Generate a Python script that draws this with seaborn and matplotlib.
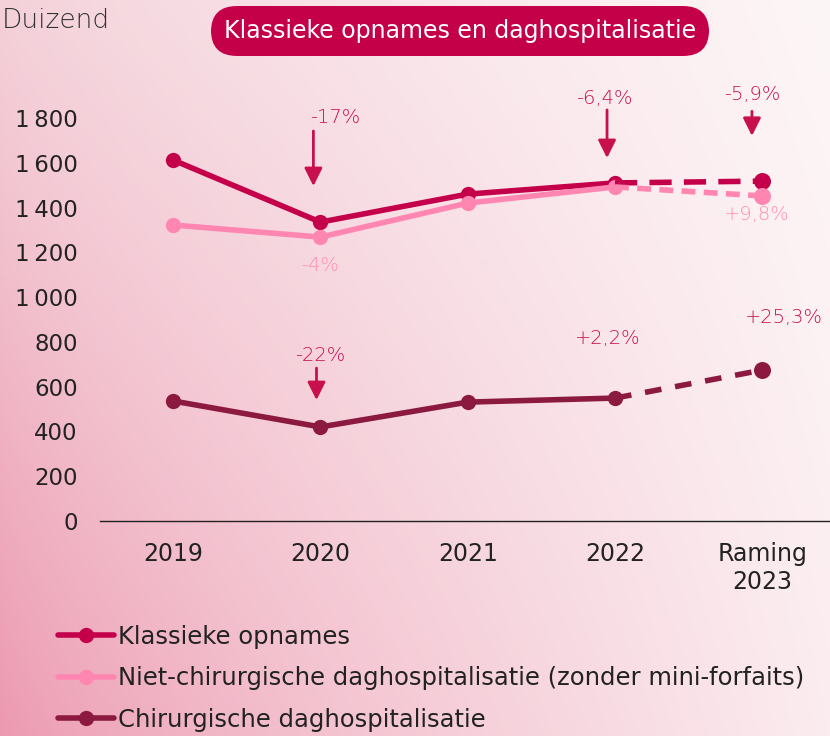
import numpy as np
import pandas as pd
import matplotlib
matplotlib.use("Agg")
import matplotlib.pyplot as plt
from matplotlib.lines import Line2D
import seaborn as sns

# ---- data ----
categories = ["2019", "2020", "2021", "2022", "Raming\n2023"]
klassieke = [1612, 1335, 1460, 1510, 1518]
niet_chir = [1322, 1268, 1420, 1492, 1452]
chir = [536, 420, 531, 549, 674]
ytick_vals = [0, 200, 400, 600, 800, 1000, 1200, 1400, 1600, 1800]
ytick_labels = ["0", "200", "400", "600", "800", "1\u2009000", "1\u2009200", "1\u2009400", "1\u2009600", "1\u2009800"]
series_names = ["Klassieke opnames",
                "Niet-chirurgische daghospitalisatie (zonder mini-forfaits)",
                "Chirurgische daghospitalisatie"]

C_KL = "#c4004a"
C_NC = "#ff86b1"
C_CH = "#8c1a40"
C_ANN = "#c8104f"
C_ANN_PINK = "#ff8fb5"

sns.set_theme(style="white")
plt.rcParams["font.family"] = ["DejaVu Sans"]

fig = plt.figure(figsize=(8.3, 7.36), dpi=100)

# background gradient
bg = fig.add_axes([0, 0, 1, 1], zorder=-10)
H, W = 200, 225
yy, xx = np.mgrid[0:1:H * 1j, 0:1:W * 1j]  # yy=0 top
tl = np.array([244, 208, 217]) / 255
tr = np.array([253, 246, 247]) / 255
bl = np.array([236, 152, 176]) / 255
br = np.array([251, 236, 239]) / 255
xs = xx[..., None] ** 0.75
ys = yy[..., None] ** 1.1
img = (tl * (1 - xs) * (1 - ys) + tr * xs * (1 - ys) + bl * (1 - xs) * ys + br * xs * ys)
bg.imshow(img, aspect="auto", extent=[0, 1, 0, 1], origin="upper")
bg.axis("off")

ax = fig.add_axes([100 / 830, (736 - 521) / 736, 730 / 830, (521 - 95.6) / 736])
ax.set_facecolor("none")

x = np.arange(len(categories))
rows = []
for name, vals in zip(series_names, [klassieke, niet_chir, chir]):
    for i, v in enumerate(vals):
        rows.append({"serie": name, "x": i, "v": v})
df = pd.DataFrame(rows)
solid = df[df["x"] <= 3]
dashed = df[df["x"] >= 3]
palette = {series_names[0]: C_KL, series_names[1]: C_NC, series_names[2]: C_CH}

sns.lineplot(data=solid, x="x", y="v", hue="serie", palette=palette, ax=ax,
             linewidth=4, marker="o", markersize=11, markeredgewidth=0, legend=False)
dash_styles = {series_names[0]: (4, 2.2), series_names[1]: (2.5, 1.5), series_names[2]: (3, 2.5)}
for name in series_names:
    d = dashed[dashed["serie"] == name]
    sns.lineplot(data=d, x="x", y="v", color=palette[name], ax=ax, linewidth=4,
                 dashes=False, legend=False)
    ax.lines[-1].set_dashes(dash_styles[name])
    ax.lines[-1].set_dash_capstyle("butt")
    sns.scatterplot(x=d["x"].iloc[-1:], y=d["v"].iloc[-1:], color=palette[name], s=150,
                    linewidth=0, ax=ax, legend=False, zorder=5)

ax.set_xlim(-0.497, 4.46)
ax.set_ylim(0, 1900)
ax.set_xticks(x)
ax.set_xticklabels(categories, fontsize=17, color="#222222", linespacing=1.2)
ax.set_yticks(ytick_vals)
ax.set_yticklabels(ytick_labels, fontsize=16.5, color="#222222")
ax.tick_params(axis="both", length=0)
ax.tick_params(axis="y", pad=16)
ax.tick_params(axis="x", pad=15)
ax.set_xlabel("")
ax.set_ylabel("")
for s in ["top", "right", "left"]:
    ax.spines[s].set_visible(False)
ax.spines["bottom"].set_color("#222222")
ax.spines["bottom"].set_linewidth(1)

# arrows
def arrow(xp, y0, y1):
    ax.annotate("", xy=(xp, y1), xytext=(xp, y0),
                arrowprops=dict(arrowstyle="-|>,head_length=0.9,head_width=0.45",
                                color=C_ANN, lw=2, shrinkA=0, shrinkB=0),
                annotation_clip=False)

arrow(0.952, 1742, 1496)
arrow(2.946, 1836, 1621)
arrow(3.93, 1830, 1720)
arrow(0.973, 683, 540)

def lab(xp, yp, txt, c):
    ax.text(xp, yp, txt, ha="center", va="center", fontsize=14, color=c,
            fontweight="light", clip_on=False)

lab(1.1, 1800, "-17%", C_ANN)
lab(2.93, 1885, "-6,4%", C_ANN)
lab(3.93, 1905, "-5,9%", C_ANN)
lab(1.0, 737, "-22%", C_ANN)
lab(1.0, 1143, "-4%", C_ANN_PINK)
lab(3.96, 1371, "+9,8%", C_ANN_PINK)
lab(2.95, 817, "+2,2%", C_ANN)
lab(4.15, 907, "+25,3%", C_ANN)

# title box
fig.text(460 / 830, 1 - 31 / 736, "Klassieke opnames en daghospitalisatie",
         ha="center", va="center", fontsize=17, color="white",
         bbox=dict(boxstyle="round,pad=0.55,rounding_size=1.1", fc="#c40048", ec="none"))

# unit label
fig.text(2 / 830, 1 - 20 / 736, "Duizend", ha="left", va="center",
         fontsize=19, color="#333333", fontweight="light")

# legend
handles = [Line2D([0], [0], color=c, lw=4, marker="o", markersize=11, markeredgewidth=0)
           for c in [C_KL, C_NC, C_CH]]
leg = fig.legend(handles, series_names, loc="upper left",
                 bbox_to_anchor=(48 / 830, 1 - 615 / 736), frameon=False,
                 fontsize=17.5, handlelength=2.3, handletextpad=0.2,
                 labelspacing=0.72, borderaxespad=0)
for t in leg.get_texts():
    t.set_color("#222222")

fig.savefig("out.png", dpi=100)
